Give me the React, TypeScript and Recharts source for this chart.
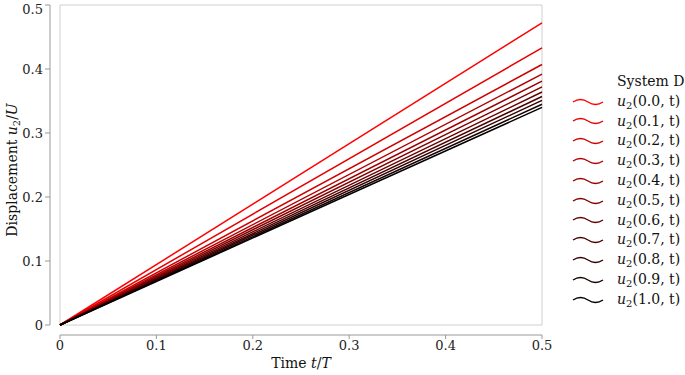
import {
	Label,
	Line,
	LineChart,
	ReferenceArea,
	XAxis,
	YAxis,
} from "recharts";

const times = [0, 0.5];
const positions = ["0.0", "0.1", "0.2", "0.3", "0.4", "0.5", "0.6", "0.7", "0.8", "0.9", "1.0"];
const displacements = [
	[0, 0.472],
	[0, 0.433],
	[0, 0.407],
	[0, 0.392],
	[0, 0.381],
	[0, 0.372],
	[0, 0.364],
	[0, 0.357],
	[0, 0.351],
	[0, 0.345],
	[0, 0.34],
];
const colors = [
	"#ff0000",
	"#e60000",
	"#cc0000",
	"#b30000",
	"#990000",
	"#800000",
	"#660000",
	"#4d0000",
	"#330000",
	"#1a0000",
	"#000000",
];
const ticks = [0, 0.1, 0.2, 0.3, 0.4, 0.5];

const data = times.map((t, i) => {
	const row: Record<string, number> = { t };
	displacements.forEach((s, k) => {
		row[`s${k}`] = s[i];
	});
	return row;
});

const FONT = "'DejaVu Serif', serif";
const GAP = 10;
const fmt = (v: number) => (v === 0 ? "0" : String(v));

function XTick({ x, y, payload }: any) {
	return (
		<text
			x={x}
			y={y + GAP}
			dy="0.71em"
			textAnchor="middle"
			fontFamily={FONT}
			fontSize={13}
			fill="#222"
		>
			{fmt(payload.value)}
		</text>
	);
}

function YTick({ x, y, payload }: any) {
	return (
		<text
			x={x - GAP}
			y={y}
			dy="0.35em"
			textAnchor="end"
			fontFamily={FONT}
			fontSize={13}
			fill="#222"
		>
			{fmt(payload.value)}
		</text>
	);
}

function YTitle({ viewBox }: any) {
	const cx = 12;
	const cy = viewBox.y + viewBox.height / 2 + 5;
	return (
		<text
			x={cx}
			y={cy}
			transform={`rotate(-90 ${cx} ${cy})`}
			textAnchor="middle"
			dy="0.35em"
			fontFamily={FONT}
			fontSize={14}
			fill="#111"
		>
			Displacement <tspan fontStyle="italic">u</tspan>
			<tspan fontSize={10} dy={3}>2</tspan>
			<tspan dy={-3}>/</tspan>
			<tspan fontStyle="italic">U</tspan>
		</text>
	);
}

function XTitle({ viewBox }: any) {
	const cx = viewBox.x + viewBox.width / 2;
	return (
		<text
			x={cx}
			y={363}
			dy="0.35em"
			textAnchor="middle"
			fontFamily={FONT}
			fontSize={14}
			fill="#111"
		>
			Time <tspan fontStyle="italic">t</tspan>/<tspan fontStyle="italic">T</tspan>
		</text>
	);
}

function Wave({ color }: { color: string }) {
	return (
		<svg width={32} height={12} style={{ display: "block" }}>
			<path d="M1,6 Q8.5,1 16,6 T31,6" fill="none" stroke={color} strokeWidth={1.4} />
		</svg>
	);
}

export default function App() {
	return (
		<div style={{ position: "absolute", left: 0, top: 0, width: 685, height: 375 }}>
			<style>{`
				.disp .recharts-xAxis line { transform: translateY(${GAP}px); }
				.disp .recharts-yAxis line { transform: translateX(-${GAP}px); }
			`}</style>
			<div className="disp">
				<LineChart
					width={685}
					height={375}
					data={data}
					margin={{ top: 5, right: 143, bottom: 0, left: 0 }}
				>
					<ReferenceArea
						x1={0}
						x2={0.5}
						y1={0}
						y2={0.5}
						fill="none"
						stroke="#cfcfcf"
						strokeWidth={1}
						fillOpacity={0}
					/>
					<XAxis
						dataKey="t"
						type="number"
						domain={[0, 0.5]}
						ticks={ticks}
						height={50}
						stroke="#999"
						tickSize={4}
						tick={XTick}
					>
						<Label content={XTitle} />
					</XAxis>
					<YAxis
						type="number"
						domain={[0, 0.5]}
						ticks={ticks}
						width={60}
						stroke="#999"
						tickSize={5}
						tick={YTick}
					>
						<Label content={YTitle} />
					</YAxis>
					{displacements.map((_, k) => (
						<Line
							key={k}
							dataKey={`s${k}`}
							stroke={colors[k]}
							strokeWidth={1.5}
							dot={false}
							isAnimationActive={false}
						/>
					))}
				</LineChart>
			</div>
			<div
				style={{
					position: "absolute",
					left: 572,
					top: 72,
					fontFamily: FONT,
					fontSize: 14,
					color: "#111",
					lineHeight: "19.8px",
				}}
			>
				<div style={{ paddingLeft: 45 }}>System D</div>
				{positions.map((p, k) => (
					<div key={p} style={{ display: "flex", alignItems: "center", height: 19.8 }}>
						<Wave color={colors[k]} />
						<span style={{ marginLeft: 13 }}>
							<i>u</i>
							<sub style={{ fontSize: 10, verticalAlign: "-3px", lineHeight: 0 }}>2</sub>({p}, t)
						</span>
					</div>
				))}
			</div>
		</div>
	);
}
